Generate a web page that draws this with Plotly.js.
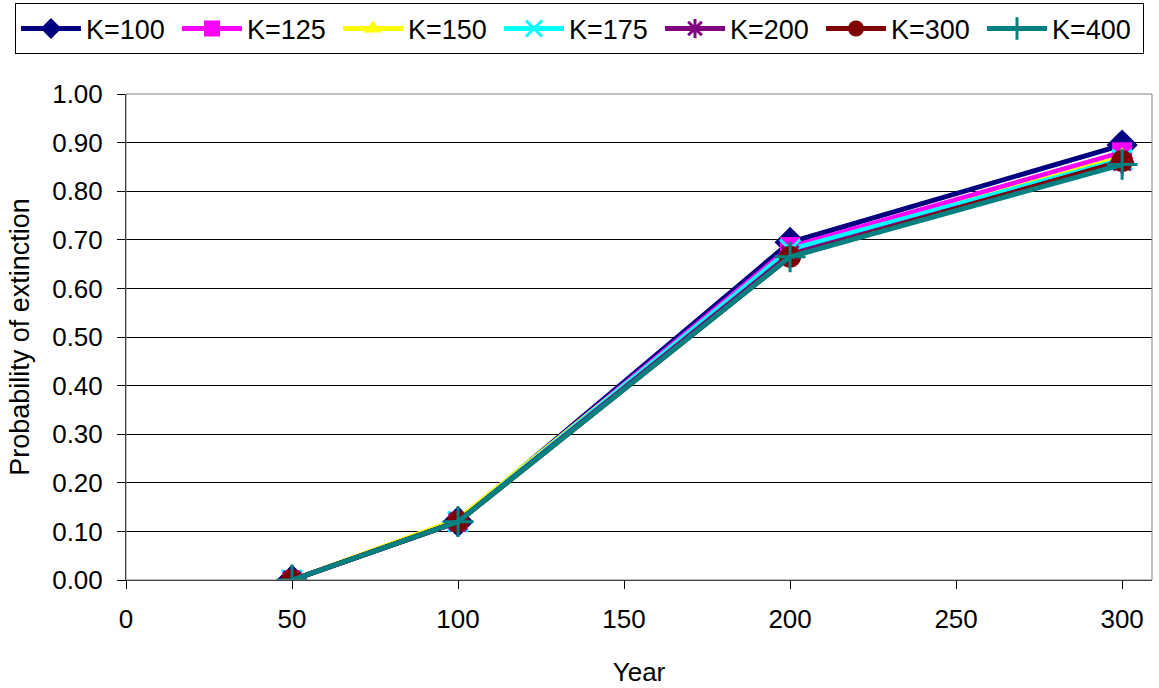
<!DOCTYPE html>
<html><head><meta charset="utf-8">
<script src="https://cdn.plot.ly/plotly-3.0.1.min.js"></script>
<style>body{margin:0;background:#fff}#c{width:1159px;height:688px}</style>
</head><body><div id="c"></div>
<script>
const years = [50, 100, 200, 300];
const seriesNames = ["K=100","K=125","K=150","K=175","K=200","K=300","K=400"];
const k100 = [0.00, 0.12, 0.695, 0.895];
const k125 = [0.00, 0.12, 0.685, 0.880];
const k150 = [0.00, 0.125, 0.675, 0.870];
const k175 = [0.00, 0.12, 0.680, 0.865];
const k200 = [0.00, 0.12, 0.670, 0.860];
const k300 = [0.00, 0.12, 0.665, 0.862];
const k400 = [0.00, 0.12, 0.665, 0.855];
const yTickVals = [0,0.1,0.2,0.3,0.4,0.5,0.6,0.7,0.8,0.9,1.0];
const xTickVals = [0,50,100,150,200,250,300];

const vals = [k100,k125,k150,k175,k200,k300,k400];
const colors = ["#000080","#FF00FF","#FFFF00","#00FFFF","#800080","#800000","#008080"];
const symbols = ["diamond","square","triangle-up","x-thin-open","asterisk-open","circle","cross-thin-open"];
const sizes = [24,20,20,20,20,22,22];
const traces = vals.map((v,i)=>({
  x: years, y: v, name: seriesNames[i], type:"scatter", mode:"lines+markers",
  line:{color:colors[i], width:5},
  marker:{symbol:symbols[i], size:sizes[i], color:colors[i], line:{color:colors[i], width: (i===3||i===4||i===6)?3:0}}
}));
const W = 1159;
const layout = {
  width:W, height:688,
  margin:{l:0, r:0, t:94, b:108, autoexpand:false},
  paper_bgcolor:"#fff", plot_bgcolor:"#fff",
  font:{family:"Liberation Sans, Arial, sans-serif", size:26, color:"#000"},
  showlegend:true,
  legend:{orientation:"h", x:0.5, xanchor:"center", xref:"container", y:0.995, yanchor:"top", yref:"container",
    bordercolor:"#000", borderwidth:1, font:{size:27}, entrywidth:86, entrywidthmode:"pixels", itemwidth:60, tracegroupgap:0},
  xaxis:{domain:[126/W, 1152/W], range:[0,309], tickvals:xTickVals, ticktext:xTickVals.map(String), showgrid:false,
    zeroline:false, showline:true, linecolor:"#000", linewidth:1, ticks:"outside", ticklen:8, tickcolor:"#000",
    ticklabelstandoff:8,
    title:{text:"Year", font:{size:26}, standoff:29}},
  yaxis:{range:[0,1.0], tickvals:yTickVals, ticktext:yTickVals.map(v=>v.toFixed(2)),
    showgrid:true, gridcolor:"#000", gridwidth:1, zeroline:false, showline:true,
    linecolor:"#000", ticks:"outside", ticklen:8, tickcolor:"#000",
    ticklabelstandoff:9,
    title:{text:"Probability of extinction", font:{size:27}, standoff:14}},
  shapes:[{type:"rect", xref:"x domain", yref:"y domain", x0:0, x1:1, y0:0, y1:1, line:{color:"#808080", width:1}}]
};
Plotly.newPlot("c", traces, layout, {displayModeBar:false});
</script></body></html>
